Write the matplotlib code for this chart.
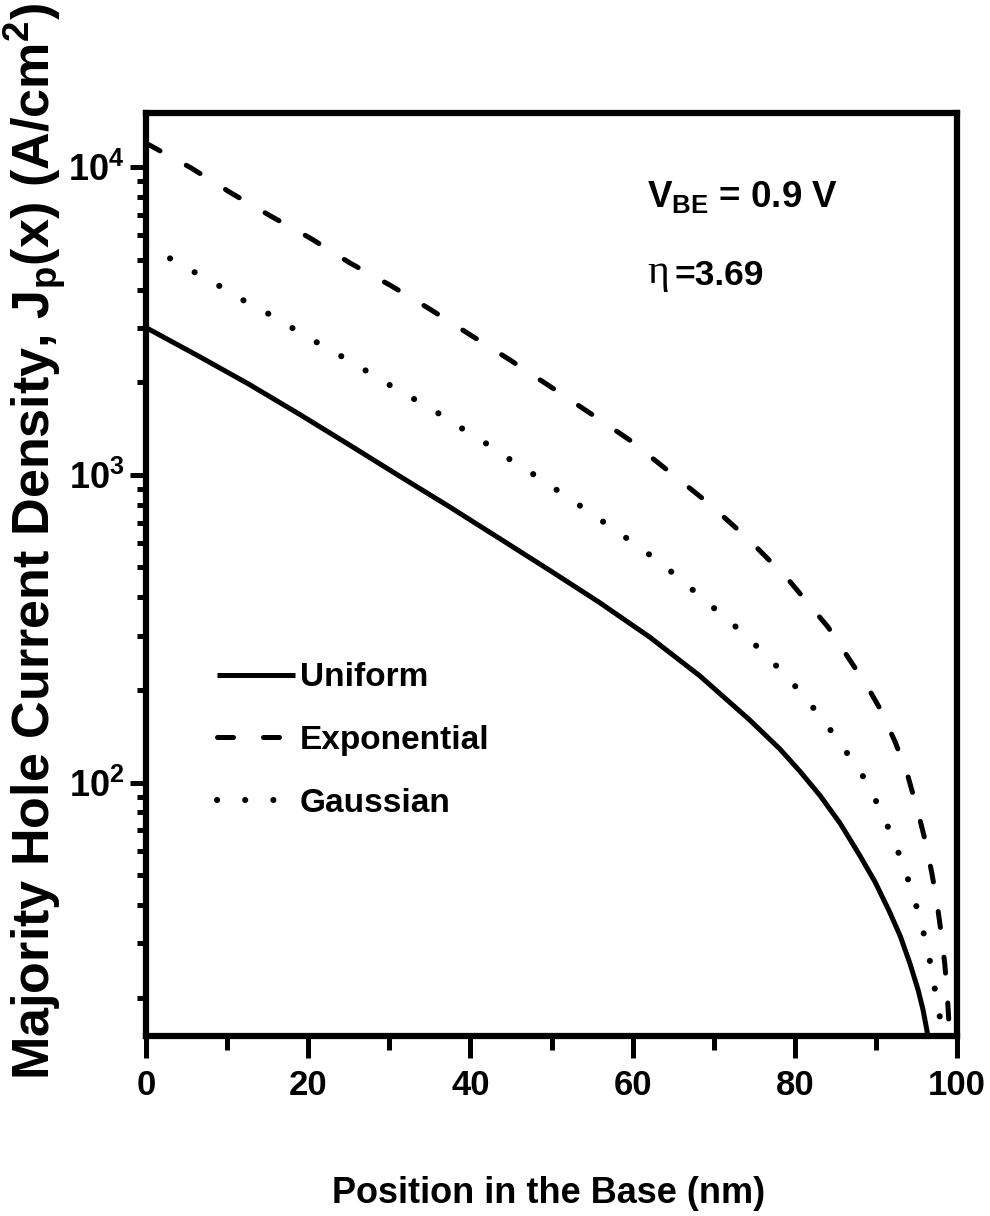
import matplotlib
matplotlib.use("Agg")
import matplotlib.pyplot as plt
from matplotlib.ticker import FixedLocator, LogLocator, LogFormatterMathtext, NullFormatter

plt.rcParams['font.family'] = ['Liberation Sans Narrow', 'Liberation Sans', 'DejaVu Sans']
plt.rcParams['font.weight'] = 'bold'

# Position in the base (nm) and majority hole current density (A/cm^2)
x_uniform = [0, 6.5, 12.7, 18.9, 25.1, 31.2, 37.4, 43.6, 49.8, 55.9, 62.1, 68.3,
             74.4, 78.1, 80.6, 83.1, 85.6, 88.0, 89.9, 91.7, 93.0, 94.2, 95.2,
             95.8, 96.3, 96.5]
j_uniform = [3010, 2430, 1970, 1575, 1250, 993, 788, 621, 489, 385, 297, 222,
             160, 129, 109, 90.8, 73.6, 58.0, 47.5, 37.9, 31.7, 25.8, 21.2,
             18.3, 15.6, 14.3]

x_exponential = [0, 5.6, 10.5, 15.4, 20.4, 25.1, 30.2, 34.9, 39.9, 44.8, 49.8,
                 54.7, 59.6, 64.4, 69.3, 74.2, 79.1, 84.1, 88.9, 90.6, 92.4,
                 93.9, 95.2, 96.1, 96.9, 97.5, 98.1, 98.5, 98.8, 99.2]
j_exponential = [11970, 9930, 8240, 6930, 5850, 4890, 4120, 3470, 2860, 2370,
                 1940, 1590, 1300, 1030, 811, 621, 460, 320, 206, 172, 135,
                 106, 80, 64.4, 50.7, 41.2, 31.7, 25.6, 20.5, 13.5]

x_gaussian = [0, 2.8, 5.7, 8.6, 11.6, 14.6, 17.5, 20.5, 23.5, 26.4, 29.3, 32.2,
              35.2, 38.1, 41.1, 44.0, 46.9, 49.9, 52.8, 55.8, 58.8, 61.7, 64.7,
              67.5, 70.5, 73.5, 76.4, 79.3, 82.2, 85.2, 88.3, 90.7, 92.7, 94.4,
              95.7, 96.7, 97.5, 98.4]
j_gaussian = [5640, 5080, 4600, 4180, 3740, 3400, 3060, 2750, 2480, 2240, 2010,
              1815, 1640, 1460, 1310, 1160, 1040, 921, 818, 721, 635, 560, 486,
              421, 360, 308, 260, 217, 176, 139, 106, 80.5, 60, 45, 34, 26,
              19.7, 14.5]

series_labels = ['Uniform', 'Exponential', 'Gaussian']
x_ticks = [0, 20, 40, 60, 80, 100]
x_minor_ticks = [10, 30, 50, 70, 90]
x_limits = (0, 100)
y_limits = (15, 15000)

W, H = 990, 1216
fig = plt.figure(figsize=(W / 100, H / 100), dpi=100)
left, right, top, bottom = 146, 957, 113, 1036
ax = fig.add_axes([left / W, 1 - bottom / H, (right - left) / W, (bottom - top) / H])

lw = 3.6
ax.plot(x_uniform, j_uniform, color='black', lw=lw, solid_capstyle='butt',
        solid_joinstyle='round', label=series_labels[0])
ax.plot(x_exponential, j_exponential, color='black', lw=lw,
        linestyle=(0, (3.2, 6.0)), dash_capstyle='round', label=series_labels[1])
ax.plot(x_gaussian, j_gaussian, color='black', lw=lw + 0.8,
        linestyle=(0, (0.01, 4.6)), dash_capstyle='round', label=series_labels[2])

ax.set_yscale('log')
ax.set_xlim(*x_limits)
ax.set_ylim(*y_limits)

ax.xaxis.set_major_locator(FixedLocator(x_ticks))
ax.xaxis.set_minor_locator(FixedLocator(x_minor_ticks))
ax.yaxis.set_major_locator(LogLocator(base=10, numticks=10))
ax.yaxis.set_minor_locator(LogLocator(base=10, subs=range(2, 10), numticks=30))
ax.yaxis.set_major_formatter(LogFormatterMathtext())
ax.yaxis.set_minor_formatter(NullFormatter())

for s in ax.spines.values():
    s.set_linewidth(4.5)

ax.tick_params(axis='x', which='major', direction='out', length=16, width=3.6,
               pad=8, labelsize=25)
ax.tick_params(axis='x', which='minor', direction='out', length=10, width=3.6)
ax.tick_params(axis='y', which='major', direction='out', length=11.5, width=3.6,
               pad=4, labelsize=26)
ax.tick_params(axis='y', which='minor', direction='out', length=6.5, width=3.6)
ax.tick_params(top=False, right=False, which='both')

fig.text(549 / W, 1 - 1203 / H, 'Position in the Base (nm)', ha='center',
         va='baseline', fontsize=26, fontweight='bold')
fig.text(36 / W, 1 - 542 / H,
         r'Majority Hole Current Density, J$_{\mathregular{p}}$(x) (A/cm$^{\mathregular{2}}$)',
         rotation=90, ha='center', va='center', fontsize=37.5, fontweight='bold',
         family=['Liberation Sans', 'DejaVu Sans'])

ax.text(0.618, 0.897, r'V$_{\mathregular{BE}}$ = 0.9 V', transform=ax.transAxes,
        ha='left', va='baseline', fontsize=26.5, fontweight='bold')
ax.text(0.618, 0.816, 'η', transform=ax.transAxes, ha='left', va='baseline',
        fontsize=30, fontweight='normal', family=['Liberation Serif', 'DejaVu Serif'])
ax.text(0.652, 0.8137, '=3.69', transform=ax.transAxes, ha='left', va='baseline',
        fontsize=25.5, fontweight='bold')

leg = ax.legend(loc='upper left', bbox_to_anchor=(0.0875, 0.405), frameon=False,
                fontsize=24, handlelength=2.34, handletextpad=0.15,
                labelspacing=0.95, borderpad=0, borderaxespad=0)

fig.savefig('out.png', dpi=100)
